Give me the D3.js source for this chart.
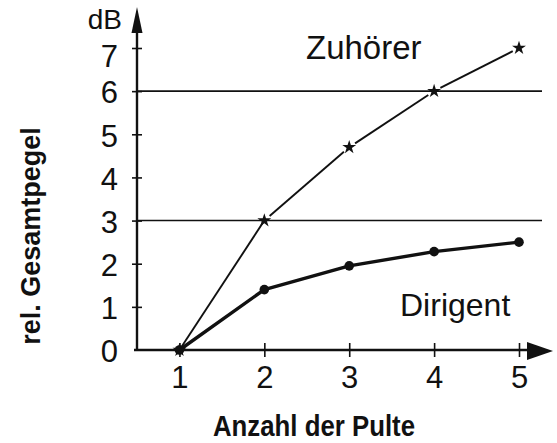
<!DOCTYPE html>
<html>
<head>
<meta charset="utf-8">
<script src="https://cdn.jsdelivr.net/npm/d3@7"></script>
<style>
  html, body { margin: 0; padding: 0; background: #fff; }
  svg { display: block; }
  .lbl { font-family: "Liberation Sans", Arial, sans-serif; fill: #111; }
  .narrow { font-family: "Liberation Sans Narrow", "Arial Narrow", "Liberation Sans", sans-serif; fill: #111; }
</style>
</head>
<body>
<div id="chart"></div>
<script>
// values
const pulte = [1, 2, 3, 4, 5];
const zuhoerer = [0, 3, 4.7, 6, 7];
const dirigent = [0, 1.4, 1.95, 2.28, 2.5];
const yTicks = [0, 1, 2, 3, 4, 5, 6, 7];
const refLines = [3, 6];

const W = 557, H = 443;
const ink = "#111";

const svg = d3.select("#chart").append("svg")
  .attr("width", W).attr("height", H);

const x = d3.scaleLinear().domain([0.5, 5]).range([137, 519]);
const y = d3.scaleLinear().domain([0, 7]).range([350, 48]);

// horizontal reference lines at 3 and 6 dB
svg.selectAll(".ref")
  .data(refLines)
  .enter().append("line")
  .attr("x1", x(0.5)).attr("x2", 542)
  .attr("y1", d => y(d)).attr("y2", d => y(d))
  .attr("stroke", ink).attr("stroke-width", 1.6);

// y axis
const yAx = svg.append("g")
  .attr("transform", `translate(${x(0.5)},0)`)
  .call(d3.axisLeft(y).tickValues(yTicks).tickFormat(d3.format("d"))
    .tickSize(5).tickPadding(14));
yAx.select(".domain").remove();
yAx.selectAll(".tick line")
  .attr("x1", 5).attr("x2", -5)
  .attr("stroke", ink).attr("stroke-width", 1.6)
  .filter(d => d === 0).remove();
yAx.selectAll(".tick text")
  .attr("class", "lbl").attr("font-size", 31)
  .attr("dy", d => d === 7 ? "0.6em" : "0.38em"); // top label sits a bit low in the print

// x axis
const xAx = svg.append("g")
  .attr("transform", `translate(0,${y(0)})`)
  .call(d3.axisBottom(x).tickValues(pulte).tickFormat(d3.format("d"))
    .tickSize(7).tickPadding(9));
xAx.select(".domain").remove();
xAx.selectAll(".tick line")
  .attr("y1", -7).attr("y2", 7)
  .attr("stroke", ink).attr("stroke-width", 1.6);
xAx.selectAll(".tick text")
  .attr("class", "lbl").attr("font-size", 31);

// axis lines with arrows
svg.append("line")
  .attr("x1", x(0.5)).attr("x2", x(0.5))
  .attr("y1", y(0) + 1).attr("y2", 28)
  .attr("stroke", ink).attr("stroke-width", 2.4);
svg.append("path")
  .attr("d", `M${x(0.5)},7 L${x(0.5) - 5.5},33 L${x(0.5) + 5.5},33 Z`)
  .attr("fill", ink);
svg.append("line")
  .attr("x1", x(0.5) - 3).attr("x2", 532)
  .attr("y1", y(0)).attr("y2", y(0))
  .attr("stroke", ink).attr("stroke-width", 2.6);
svg.append("path")
  .attr("d", `M553,${y(0) + 1} L527,${y(0) - 8} L527,${y(0) + 10} Z`)
  .attr("fill", ink);

// Dirigent: thick line with dots
svg.append("path")
  .datum(pulte.map((p, i) => [p, dirigent[i]]))
  .attr("d", d3.line().x(d => x(d[0])).y(d => y(d[1])))
  .attr("fill", "none").attr("stroke", ink)
  .attr("stroke-width", 3.4).attr("stroke-linejoin", "round");
svg.selectAll(".dot")
  .data(pulte.map((p, i) => [p, dirigent[i]]))
  .enter().append("circle")
  .attr("cx", d => x(d[0])).attr("cy", d => y(d[1]))
  .attr("r", 4.8).attr("fill", ink);

// Zuhörer: thin broken line with stars
const zPts = pulte.map((p, i) => [x(p), y(zuhoerer[i])]);
const gap = 7;
for (let i = 0; i < zPts.length - 1; i++) {
  const [ax, ay] = zPts[i], [bx, by] = zPts[i + 1];
  const len = Math.hypot(bx - ax, by - ay);
  const ux = (bx - ax) / len, uy = (by - ay) / len;
  const g0 = i === 0 ? 0 : gap;
  const g1 = i === 0 ? 3 : gap;
  svg.append("line")
    .attr("x1", ax + ux * g0).attr("y1", ay + uy * g0)
    .attr("x2", bx - ux * g1).attr("y2", by - uy * g1)
    .attr("stroke", ink).attr("stroke-width", 1.9);
}
svg.selectAll(".star")
  .data(pulte.map((p, i) => [p, zuhoerer[i]]))
  .enter().append("path")
  .attr("transform", d => `translate(${x(d[0])},${y(d[1])})`)
  .attr("d", d3.symbol(d3.symbolStar, 60))
  .attr("fill", ink);

// labels
svg.append("text").attr("class", "lbl")
  .attr("x", 122).attr("y", 29).attr("text-anchor", "end")
  .attr("font-size", 28).text("dB");
svg.append("text").attr("class", "lbl")
  .attr("x", 306).attr("y", 59).attr("font-size", 33).text("Zuhörer");
svg.append("text").attr("class", "lbl")
  .attr("x", 400).attr("y", 316).attr("font-size", 32).text("Dirigent");

svg.append("text").attr("class", "narrow")
  .attr("x", 314).attr("y", 436).attr("text-anchor", "middle")
  .attr("font-size", 29).attr("font-weight", "bold")
  .attr("textLength", 202).attr("lengthAdjust", "spacingAndGlyphs")
  .text("Anzahl der Pulte");
svg.append("text").attr("class", "lbl")
  .attr("transform", "translate(40,236) rotate(-90)")
  .attr("text-anchor", "middle")
  .attr("font-size", 27).attr("font-weight", "bold")
  .text("rel. Gesamtpegel");
</script>
</body>
</html>
